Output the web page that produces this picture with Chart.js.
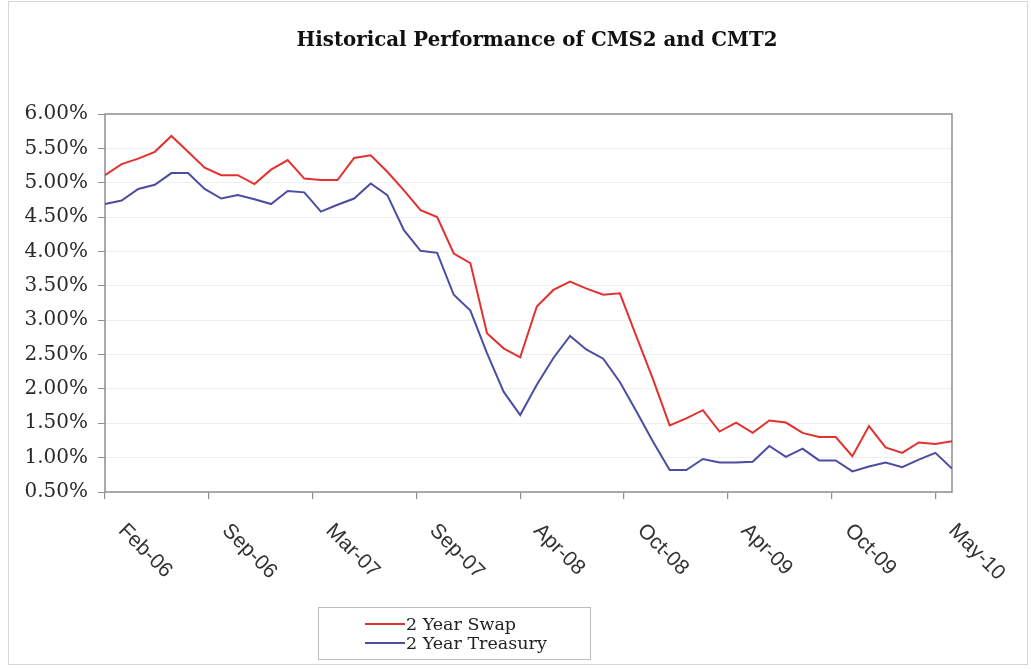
<!DOCTYPE html>
<html>
<head>
<meta charset="utf-8">
<title>Historical Performance of CMS2 and CMT2</title>
<script src="https://cdn.jsdelivr.net/npm/chart.js@4.4.1/dist/chart.umd.min.js"></script>
<style>
  html, body { margin: 0; padding: 0; background: #fff; }
  canvas { display: block; }
</style>
</head>
<body>
<canvas id="c" width="1031" height="669"></canvas>
<script>
const chartTitle = 'Historical Performance of CMS2 and CMT2';

const months = [
  'Feb-06','Mar-06','Apr-06','May-06','Jun-06','Jul-06','Aug-06','Sep-06','Oct-06','Nov-06','Dec-06',
  'Jan-07','Feb-07','Mar-07','Apr-07','May-07','Jun-07','Jul-07','Aug-07','Sep-07','Oct-07','Nov-07','Dec-07',
  'Jan-08','Feb-08','Mar-08','Apr-08','May-08','Jun-08','Jul-08','Aug-08','Sep-08','Oct-08','Nov-08','Dec-08',
  'Jan-09','Feb-09','Mar-09','Apr-09','May-09','Jun-09','Jul-09','Aug-09','Sep-09','Oct-09','Nov-09','Dec-09',
  'Jan-10','Feb-10','Mar-10','Apr-10','May-10'
];

const swap2y = [
  5.11, 5.27, 5.35, 5.45, 5.68, 5.45, 5.22, 5.11, 5.11, 4.98,
  5.19, 5.33, 5.06, 5.04, 5.04, 5.36, 5.40, 5.16, 4.89, 4.60,
  4.50, 3.97, 3.83, 2.81, 2.59, 2.46, 3.20, 3.44, 3.56, 3.46,
  3.37, 3.39, 2.76, 2.14, 1.47, 1.57, 1.69, 1.38, 1.51, 1.36,
  1.54, 1.51, 1.36, 1.30, 1.30, 1.02, 1.46, 1.15, 1.07, 1.22,
  1.20, 1.24
];

const treasury2y = [
  4.69, 4.74, 4.91, 4.97, 5.14, 5.14, 4.91, 4.77, 4.82, 4.76,
  4.69, 4.88, 4.86, 4.58, 4.68, 4.77, 4.99, 4.82, 4.31, 4.01,
  3.98, 3.37, 3.14, 2.52, 1.96, 1.62, 2.06, 2.45, 2.77, 2.57,
  2.44, 2.10, 1.67, 1.23, 0.82, 0.82, 0.98, 0.93, 0.93, 0.94,
  1.17, 1.01, 1.13, 0.96, 0.96, 0.80, 0.87, 0.93, 0.86, 0.97,
  1.07, 0.84
];

const tickLabels = ['Feb-06','Sep-06','Mar-07','Sep-07','Apr-08','Oct-08','Apr-09','Oct-09','May-10'];
const tickStep = 6.25; // months between axis labels

const seriesNames = ['2 Year Swap', '2 Year Treasury'];
const seriesColors = ['#e2312e', '#4c4ca2'];

const toPoints = arr => arr.map((v, i) => ({ x: i, y: v }));

const decor = {
  id: 'decor',
  beforeDraw(chart) {
    const ctx = chart.ctx;
    ctx.save();
    ctx.fillStyle = '#ffffff';
    ctx.fillRect(0, 0, chart.width, chart.height);
    ctx.strokeStyle = '#d6d6d6';
    ctx.lineWidth = 1;
    ctx.strokeRect(8.5, 1.5, 1019, 663);
    ctx.restore();
  },
  beforeDatasetsDraw(chart) {
    const { ctx, chartArea: a } = chart;
    ctx.save();
    ctx.strokeStyle = '#8e8e8e';
    ctx.lineWidth = 1.5;
    ctx.strokeRect(a.left, a.top, a.right - a.left, a.bottom - a.top);
    ctx.restore();
  },
  afterDraw(chart) {
    const { ctx, chartArea: a } = chart;
    const xs = chart.scales.x;
    ctx.save();
    // Title
    let size = 16;
    ctx.font = 'bold ' + size + 'px "DejaVu Serif"';
    const w = ctx.measureText(chartTitle).width;
    size = size * 481 / w;
    ctx.font = 'bold ' + size.toFixed(2) + 'px "DejaVu Serif"';
    ctx.fillStyle = '#111';
    ctx.textAlign = 'center';
    ctx.textBaseline = 'middle';
    ctx.fillText(chartTitle, 537, 41);

    // X labels, rotated 45deg clockwise
    ctx.font = '21px "Liberation Sans"';
    ctx.fillStyle = '#333';
    ctx.textAlign = 'left';
    ctx.textBaseline = 'top';
    tickLabels.forEach((lab, k) => {
      const px = xs.getPixelForValue(k * tickStep);
      ctx.save();
      ctx.translate(px + 24, a.bottom + 28);
      ctx.rotate(Math.PI / 4);
      ctx.fillText(lab, 0, 0);
      ctx.restore();
    });

    // Legend box
    ctx.strokeStyle = '#bdbdbd';
    ctx.lineWidth = 1;
    ctx.strokeRect(318.5, 607.5, 272, 52);
    ctx.font = '17.5px "DejaVu Serif"';
    ctx.textBaseline = 'middle';
    chart.data.datasets.forEach((ds, i) => {
      const y = 624 + i * 19;
      ctx.strokeStyle = ds.borderColor;
      ctx.lineWidth = 2;
      ctx.beginPath();
      ctx.moveTo(365, y);
      ctx.lineTo(405, y);
      ctx.stroke();
      ctx.fillStyle = '#222';
      ctx.fillText(ds.label, 406, y + 1);
    });
    ctx.restore();
  }
};

new Chart(document.getElementById('c'), {
  type: 'line',
  data: {
    datasets: [
      { label: seriesNames[0], data: toPoints(swap2y), borderColor: seriesColors[0], borderWidth: 2, pointRadius: 0, tension: 0, fill: false },
      { label: seriesNames[1], data: toPoints(treasury2y), borderColor: seriesColors[1], borderWidth: 2, pointRadius: 0, tension: 0, fill: false }
    ]
  },
  options: {
    responsive: false,
    animation: false,
    devicePixelRatio: 1,
    layout: { padding: { top: 114, right: 79, bottom: 0, left: 0 } },
    plugins: {
      legend: { display: false },
      title: { display: false },
      tooltip: { enabled: false }
    },
    scales: {
      x: {
        type: 'linear',
        min: 0,
        max: months.length - 1,
        afterBuildTicks: s => { s.ticks = tickLabels.map((_, k) => ({ value: k * tickStep })); },
        afterFit: s => { s.height = 177; },
        ticks: { display: false },
        grid: { drawOnChartArea: false, tickColor: '#8e8e8e', tickLength: 7, lineWidth: 1.2 },
        border: { display: false }
      },
      y: {
        min: 0.5,
        max: 6,
        afterFit: s => { s.width = 105; },
        ticks: {
          stepSize: 0.5,
          padding: 10,
          color: '#2a2a2a',
          font: { family: '"DejaVu Serif"', size: 20 },
          callback: v => v.toFixed(2) + '%'
        },
        grid: { color: '#f0f0f0', tickColor: '#8e8e8e', tickLength: 7, lineWidth: 1 },
        border: { display: false }
      }
    }
  },
  plugins: [decor]
});
</script>
</body>
</html>
